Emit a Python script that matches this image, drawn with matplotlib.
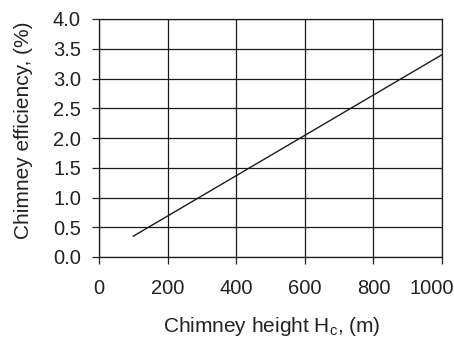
import matplotlib
matplotlib.use("Agg")
import matplotlib.pyplot as plt
from matplotlib.transforms import ScaledTranslation

plt.rcParams['font.family'] = ['Liberation Sans', 'DejaVu Sans']

height_m = [100, 1000]
efficiency_pct = [0.35, 3.40]
x_ticks = [0, 200, 400, 600, 800, 1000]
y_ticks = [0.0, 0.5, 1.0, 1.5, 2.0, 2.5, 3.0, 3.5, 4.0]

W, H = 454, 337
fig = plt.figure(figsize=(W / 100, H / 100), dpi=100)
L, R, T, B = 99, 442, 19, 257
ax = fig.add_axes([L / W, 1 - B / H, (R - L) / W, (B - T) / H])
ink = '#1a1a1a'
ax.plot(height_m, efficiency_pct, color=ink, lw=1.0)
ax.set_xlim(0, 1000)
ax.set_ylim(0, 4.0)
ax.set_xticks(x_ticks)
ax.set_yticks(y_ticks)
ax.set_yticklabels([f"{v:.1f}" for v in y_ticks])
ax.grid(True, color=ink, lw=0.9)
for s in ax.spines.values():
    s.set_color(ink)
    s.set_linewidth(0.9)
ax.tick_params(axis='both', labelsize=14.5, length=5, width=0.9, colors='#222222')
ax.tick_params(axis='x', pad=11)
ax.tick_params(axis='y', pad=8)
# shift the last x label so it stays inside the canvas, as in the reference
lbls = ax.get_xticklabels()
lbls[-1].set_transform(lbls[-1].get_transform() + ScaledTranslation(-10 / 100, 0, fig.dpi_scale_trans))

ax.set_xlabel("Chimney height H$_\\mathregular{c}$, (m)", fontsize=15, color='#222222')
ax.set_ylabel("Chimney efficiency, (%)", fontsize=15, color='#222222')
ax.xaxis.set_label_coords((272 - L) / (R - L), (B - 315) / (B - T))
ax.yaxis.set_label_coords((33 - L) / (R - L), (B - 130) / (B - T))
fig.savefig("out.png", dpi=100)
